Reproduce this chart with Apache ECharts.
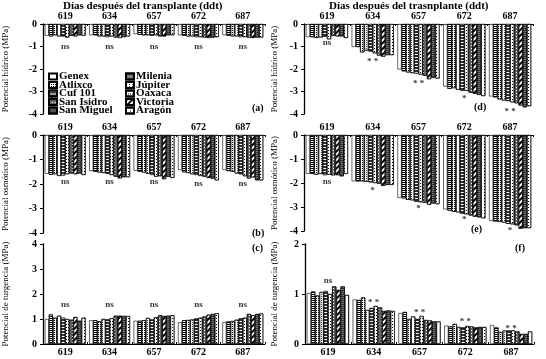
<!DOCTYPE html>
<html>
<head>
<meta charset="utf-8">
<script src="https://cdn.jsdelivr.net/npm/echarts@6/dist/echarts.min.js"></script>
<style>
  html, body { margin: 0; padding: 0; background: #fff; }
  #chart { width: 546px; height: 359px; }
</style>
</head>
<body>
<div id="chart"></div>
<script>
// fechas (ddt) y cultivares
const fechas = ['619', '634', '657', '672', '687'];
const cultivares = ['Genex', 'Milenia', 'Atlixco', 'Júpiter', 'Cuf 101', 'Oaxaca', 'San Isidro', 'Victoria', 'San Miguel', 'Aragón'];
const leyendaCol1 = ['Genex', 'Atlixco', 'Cuf 101', 'San Isidro', 'San Miguel'];
const leyendaCol2 = ['Milenia', 'Júpiter', 'Oaxaca', 'Victoria', 'Aragón'];

// una fila por fecha, 10 cultivares por fila
const hidricoA = [
  [-0.52, -0.55, -0.50, -0.55, -0.55, -0.60, -0.52, -0.55, -0.50, -0.52],
  [-0.50, -0.50, -0.55, -0.55, -0.58, -0.55, -0.60, -0.62, -0.58, -0.55],
  [-0.45, -0.48, -0.50, -0.50, -0.52, -0.50, -0.55, -0.55, -0.50, -0.50],
  [-0.50, -0.52, -0.55, -0.55, -0.58, -0.58, -0.60, -0.62, -0.60, -0.58],
  [-0.50, -0.52, -0.55, -0.55, -0.58, -0.58, -0.60, -0.62, -0.60, -0.60]
];
const hidricoD = [
  [-0.58, -0.58, -0.62, -0.60, -0.56, -0.68, -0.52, -0.55, -0.55, -0.62],
  [-1.02, -1.02, -1.26, -1.18, -1.22, -1.30, -1.40, -1.45, -1.38, -1.38],
  [-2.02, -2.10, -2.15, -2.18, -2.20, -2.25, -2.30, -2.45, -2.38, -2.42],
  [-2.78, -2.88, -2.85, -2.92, -2.96, -2.97, -3.05, -3.10, -3.15, -3.20],
  [-3.22, -3.26, -3.35, -3.40, -3.42, -3.48, -3.52, -3.62, -3.70, -3.65]
];
const osmoticoB = [
  [-1.58, -1.62, -1.60, -1.67, -1.65, -1.60, -1.57, -1.60, -1.57, -1.63],
  [-1.47, -1.50, -1.53, -1.55, -1.58, -1.63, -1.70, -1.77, -1.72, -1.72],
  [-1.46, -1.50, -1.53, -1.58, -1.63, -1.70, -1.68, -1.80, -1.70, -1.75],
  [-1.43, -1.52, -1.55, -1.60, -1.63, -1.67, -1.70, -1.75, -1.78, -1.85],
  [-1.43, -1.47, -1.50, -1.57, -1.60, -1.68, -1.77, -1.73, -1.85, -1.85]
];
const osmoticoE = [
  [-1.62, -1.62, -1.65, -1.62, -1.67, -1.65, -1.68, -1.67, -1.72, -1.62],
  [-1.93, -1.93, -1.93, -1.95, -1.97, -2.00, -2.03, -2.12, -2.08, -2.08],
  [-2.62, -2.64, -2.70, -2.72, -2.78, -2.80, -2.82, -2.90, -2.85, -2.88],
  [-3.10, -3.15, -3.20, -3.22, -3.28, -3.30, -3.35, -3.40, -3.43, -3.47],
  [-3.58, -3.60, -3.62, -3.65, -3.70, -3.72, -3.76, -3.90, -3.88, -3.88]
];
const turgenciaC = [
  [1.00, 1.18, 1.05, 1.13, 1.05, 1.00, 0.97, 1.08, 0.93, 1.05],
  [0.95, 0.95, 0.91, 1.00, 0.98, 1.03, 1.13, 1.13, 1.12, 1.12],
  [0.93, 0.93, 0.95, 1.04, 0.98, 1.07, 1.15, 1.12, 1.13, 1.15],
  [0.87, 0.95, 0.96, 0.98, 1.02, 1.05, 1.10, 1.17, 1.20, 1.23],
  [0.88, 0.90, 0.92, 0.97, 1.03, 1.05, 1.20, 1.15, 1.20, 1.22]
];
const turgenciaF = [
  [1.02, 1.05, 0.97, 1.04, 1.06, 1.00, 1.15, 1.08, 1.15, 0.98],
  [0.89, 0.88, 0.93, 0.68, 0.72, 0.76, 0.73, 0.66, 0.67, 0.66],
  [0.62, 0.64, 0.50, 0.55, 0.50, 0.56, 0.48, 0.47, 0.45, 0.45],
  [0.37, 0.35, 0.40, 0.34, 0.33, 0.36, 0.35, 0.33, 0.34, 0.34],
  [0.38, 0.33, 0.24, 0.27, 0.27, 0.27, 0.25, 0.20, 0.20, 0.25]
];

// significancia y altura donde va el texto
const notasA = ['ns', 'ns', 'ns', 'ns', 'ns'];
const notasAY = [-1.0, -1.0, -1.0, -1.0, -1.0];
const notasD = ['ns', '* *', '* *', '*', '* *'];
const notasDY = [-0.85, -1.68, -2.65, -3.3, -3.9];
const notasB = ['ns', 'ns', 'ns', 'ns', 'ns'];
const notasBY = [-1.9, -1.9, -1.9, -2.0, -2.0];
const notasE = ['ns', '*', '*', '*', '*'];
const notasEY = [-1.93, -2.3, -3.06, -3.54, -4.0];
const notasC = ['ns', 'ns', 'ns', 'ns', 'ns'];
const notasCY = [1.57, 1.57, 1.57, 1.57, 1.57];
const notasF = ['ns', '* *', '* *', '* *', '* *'];
const notasFY = [1.27, 0.83, 0.63, 0.45, 0.31];

const fuente = 'Liberation Serif';

// tramas tipo blanco y negro para cada cultivar
const tramas = [
  { color: '#fff', decal: null },
  { color: '#fff', decal: { symbol: 'rect', symbolSize: 1, color: '#000', dashArrayX: [1, 0], dashArrayY: [1, 1] } },
  { color: '#fff', decal: { symbol: 'rect', symbolSize: 1, color: '#000', dashArrayX: [1, 1], dashArrayY: [1, 1] } },
  { color: '#fff', decal: { symbol: 'rect', symbolSize: 1, color: '#444', dashArrayX: [1, 2], dashArrayY: [1, 1] } },
  { color: '#333', decal: { symbol: 'rect', symbolSize: 1, color: '#fff', dashArrayX: [1, 0], dashArrayY: [1, 2] } },
  { color: '#fff', decal: { symbol: 'rect', symbolSize: 1, color: '#000', dashArrayX: [1, 1], dashArrayY: [1, 2] } },
  { color: '#666', decal: { symbol: 'rect', symbolSize: 1, color: '#fff', dashArrayX: [1, 2], dashArrayY: [1, 2] } },
  { color: '#fff', decal: { symbol: 'rect', symbolSize: 1, color: '#000', dashArrayX: [1, 0], dashArrayY: [2, 2], rotation: -Math.PI / 4 } },
  { color: '#777', decal: { symbol: 'rect', symbolSize: 1, color: '#333', dashArrayX: [1, 0], dashArrayY: [1, 1] } },
  { color: '#fff', decal: { symbol: 'rect', symbolSize: 1, color: '#000', dashArrayX: [1, 3], dashArrayY: [1, 2] } }
];

const paneles = [
  { datos: hidricoA, notas: notasA, notasY: notasAY, min: -4, max: 0, arriba: true,
    nombre: 'Potencial hídrico (MPa)', grid: { left: 40, top: 24, width: 225, height: 90 }, gap: 33 },
  { datos: hidricoD, notas: notasD, notasY: notasDY, min: -4, max: 0, arriba: true,
    nombre: 'Potencial hídrico (MPa)', grid: { left: 304, top: 24, width: 229, height: 90 }, gap: 25 },
  { datos: osmoticoB, notas: notasB, notasY: notasBY, min: -4, max: 0, arriba: true,
    nombre: 'Potencial osmótico (MPa)', grid: { left: 40, top: 135, width: 225, height: 98 }, gap: 33 },
  { datos: osmoticoE, notas: notasE, notasY: notasEY, min: -4, max: 0, arriba: true,
    nombre: 'Potencial osmótico (MPa)', grid: { left: 304, top: 135, width: 229, height: 96 }, gap: 25 },
  { datos: turgenciaC, notas: notasC, notasY: notasCY, min: 0, max: 4, arriba: false,
    nombre: 'Potencial de turgencia (MPa)', grid: { left: 40, top: 244, width: 225, height: 100 }, gap: 33 },
  { datos: turgenciaF, notas: notasF, notasY: notasFY, min: 0, max: 2, arriba: false,
    nombre: 'Potencial de turgencia (MPa)', grid: { left: 305, top: 244, width: 229, height: 100 }, gap: 26 }
];

const grids = [], xAxes = [], yAxes = [], series = [];

paneles.forEach((p, g) => {
  grids.push(p.grid);
  xAxes.push({
    type: 'category',
    gridIndex: g,
    data: fechas,
    position: p.arriba ? 'top' : 'bottom',
    axisLine: { onZero: false, lineStyle: { color: '#000', width: 1 } },
    axisTick: { show: true, inside: true, length: 2, lineStyle: { color: '#000' } },
    axisLabel: { color: '#000', fontFamily: fuente, fontWeight: 'bold', fontSize: 10, margin: 3 }
  });
  yAxes.push({
    type: 'value',
    gridIndex: g,
    min: p.min,
    max: p.max,
    interval: 1,
    splitLine: { show: false },
    axisLine: { show: true, lineStyle: { color: '#000', width: 1.3 } },
    axisTick: { show: true, length: 3, lineStyle: { color: '#000' } },
    axisLabel: { color: '#000', fontFamily: fuente, fontWeight: 'bold', fontSize: 10, margin: 6 },
    name: p.nombre,
    nameLocation: 'middle',
    nameGap: p.gap,
    nameTextStyle: { color: '#000', fontFamily: fuente, fontSize: 9 }
  });
  cultivares.forEach((c, i) => {
    series.push({
      name: c,
      type: 'bar',
      xAxisIndex: g,
      yAxisIndex: g,
      barGap: '0%',
      barCategoryGap: '8%',
      itemStyle: { color: tramas[i].color, borderColor: '#000', borderWidth: 0.6, decal: tramas[i].decal },
      data: p.datos.map(fila => fila[i])
    });
  });
  series.push({
    type: 'scatter',
    xAxisIndex: g,
    yAxisIndex: g,
    symbolSize: 0,
    silent: true,
    label: {
      show: true,
      position: 'inside',
      color: '#000',
      fontFamily: fuente,
      fontWeight: 'bold',
      fontSize: 9,
      formatter: d => d.name
    },
    data: p.notas.map((t, k) => ({ name: t, value: [k, p.notasY[k]] }))
  });
});

const estiloLeyenda = {
  orient: 'vertical',
  top: 71,
  padding: 0,
  itemGap: -2.5,
  itemWidth: 8,
  itemHeight: 6,
  icon: 'rect',
  selectedMode: false,
  textStyle: { color: '#000', fontFamily: fuente, fontWeight: 'bold', fontSize: 11, padding: [0, 0, 0, -3] }
};

const letraPanel = (t, x, y) => ({
  type: 'text', left: x, top: y,
  style: { text: t, fill: '#000', font: 'bold 10px "Liberation Serif"' }
});

const option = {
  backgroundColor: '#fff',
  animation: false,
  title: [
    { text: 'Días después del transplante (ddt)', left: 62, top: 0, padding: 1,
      textStyle: { color: '#000', fontFamily: fuente, fontWeight: 'bold', fontSize: 11 } },
    { text: 'Días después del trasnplante (ddt)', left: 328, top: 0, padding: 1,
      textStyle: { color: '#000', fontFamily: fuente, fontWeight: 'bold', fontSize: 11 } }
  ],
  legend: [
    Object.assign({ left: 48, data: leyendaCol1 }, estiloLeyenda),
    Object.assign({ left: 125, data: leyendaCol2 }, estiloLeyenda)
  ],
  grid: grids,
  xAxis: xAxes,
  yAxis: yAxes,
  series: series,
  graphic: [
    letraPanel('(a)', 252, 103),
    letraPanel('(d)', 474, 102),
    letraPanel('(b)', 252, 228),
    letraPanel('(e)', 471, 224),
    letraPanel('(c)', 252, 243),
    letraPanel('(f)', 515, 243)
  ]
};

const chart = echarts.init(document.getElementById('chart'));
chart.setOption(option);
</script>
</body>
</html>
